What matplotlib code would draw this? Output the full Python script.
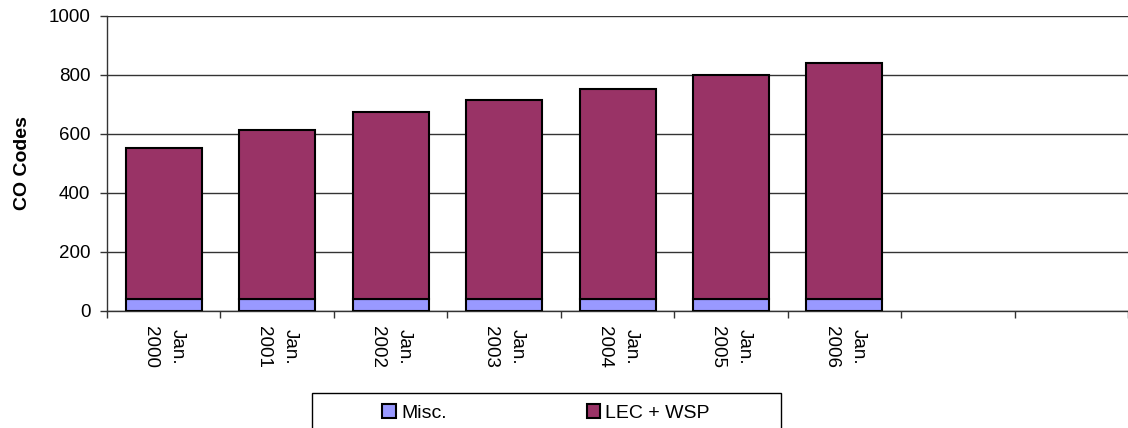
import numpy as np
import matplotlib.pyplot as plt
from matplotlib.patches import Rectangle
from matplotlib.ticker import FixedLocator, NullFormatter

plt.rcParams['font.family'] = ['Liberation Sans', 'DejaVu Sans']

# Stacked counts by January of each year; two trailing empty slots
years = ["2000", "2001", "2002", "2003", "2004", "2005", "2006"]
misc = [40, 40, 40, 40, 40, 40, 40]
total = [551, 615, 674, 714, 752, 800, 840]
lec_wsp = [t - m for t, m in zip(total, misc)]
n_slots = 9

fig = plt.figure(figsize=(11.28, 4.28), dpi=100)
ax = fig.add_axes([0.0949, 0.2734, 0.9051, 0.6893])

x = np.arange(len(years))
w = 0.67
b1 = ax.bar(x, misc, w, color="#9999FF", edgecolor="black", linewidth=1.5, label="Misc.", zorder=3)
b2 = ax.bar(x, lec_wsp, w, bottom=misc, color="#993366", edgecolor="black", linewidth=1.5,
            label="LEC + WSP", zorder=3)

ax.set_xlim(-0.5, n_slots - 0.5)
ax.set_ylim(0, 1000)
ax.set_yticks(range(0, 1001, 200))
ax.yaxis.grid(True, color="#333333", linewidth=1.0, zorder=0)

# tick marks between categories, labels centred under bars
ax.set_xticks(x)
ax.set_xticklabels(["Jan.\n" + y for y in years], rotation=-90, va="top", ha="center",
                   fontsize=13.5, linespacing=1.75)
ax.tick_params(axis="x", which="major", length=0, pad=11)
ax.xaxis.set_minor_locator(FixedLocator(np.arange(0, n_slots + 1) - 0.5))
ax.xaxis.set_minor_formatter(NullFormatter())
ax.tick_params(axis="x", which="minor", length=5, width=1, color="#333333", direction="out")
ax.tick_params(axis="y", length=5, width=1, color="#333333", labelsize=13.5, pad=7)

for s in ["top", "right"]:
    ax.spines[s].set_visible(False)
for s in ["left", "bottom"]:
    ax.spines[s].set_color("#333333")
    ax.spines[s].set_linewidth(1.0)

ax.set_ylabel("CO Codes", fontsize=14, fontweight="bold", labelpad=12.5)

# legend entries without their own frame, box drawn separately
leg = fig.legend(handles=[b1, b2], labels=["Misc.", "LEC + WSP"], ncol=2,
                 loc="center", bbox_to_anchor=(0.4840, 0.0350), frameon=False,
                 fontsize=14, handlelength=0.7, handleheight=0.7, handletextpad=0.25,
                 columnspacing=7.2, borderpad=0, borderaxespad=0)
fig.patches.append(Rectangle((312 / 1128, -0.02), (781 - 312) / 1128, (428 - 393) / 428 + 0.02,
                             transform=fig.transFigure, facecolor="white", edgecolor="black",
                             linewidth=1.0, zorder=0))

fig.savefig("out.png", dpi=100)
